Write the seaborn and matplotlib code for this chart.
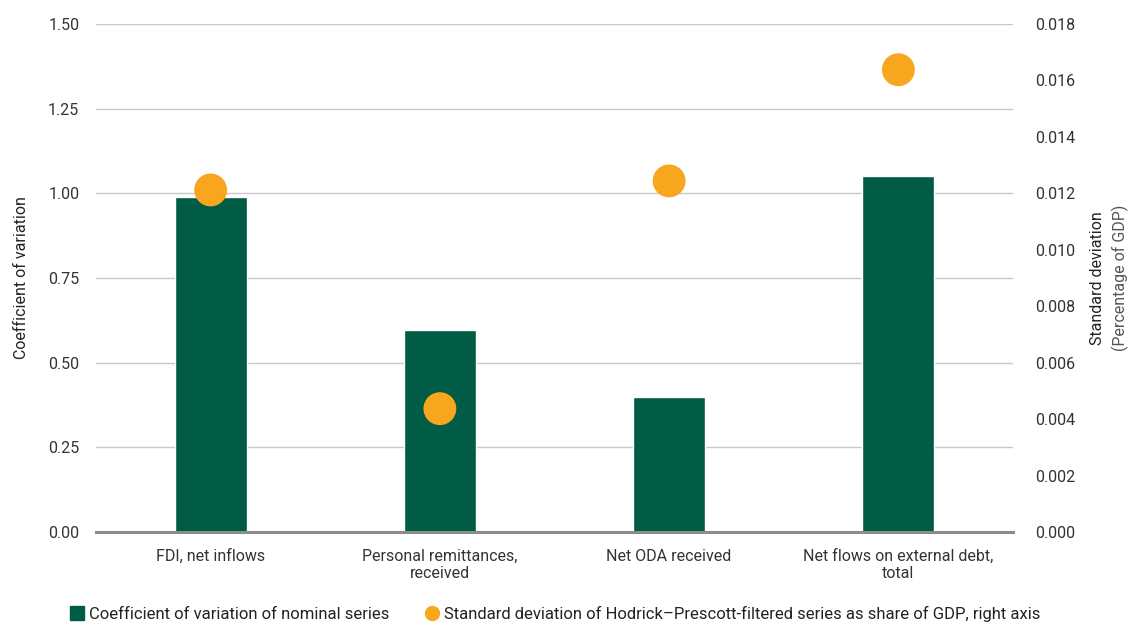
import numpy as np
import pandas as pd
import seaborn as sns
import matplotlib.pyplot as plt
from matplotlib.lines import Line2D
from matplotlib import font_manager

# data
categories = ['FDI, net inflows', 'Personal remittances,\nreceived',
              'Net ODA received', 'Net flows on external debt,\ntotal']
coef_var = [0.99, 0.595, 0.40, 1.05]
std_dev = [0.01212, 0.00437, 0.01244, 0.01638]

GREEN = '#005C45'
ORANGE = '#F9A61F'
TEXT = '#333333'

sns.set_theme(style='white')
names = {f.name for f in font_manager.fontManager.ttflist}
fam = ['Liberation Sans Narrow'] if 'Liberation Sans Narrow' in names else ['Roboto']
plt.rcParams['font.family'] = fam + ['DejaVu Sans']

df = pd.DataFrame({'category': categories, 'cv': coef_var, 'sd': std_dev})

fig = plt.figure(figsize=(11.34, 6.24), dpi=100)
ax = fig.add_axes([96 / 1134, 1 - 532 / 624, (1013 - 96) / 1134, (532 - 24) / 624])

sns.barplot(data=df, x='category', y='cv', color=GREEN, width=0.315,
            saturation=1, ax=ax, zorder=2)
ax.set_ylim(0, 1.5)
ax.set_xlim(-0.5, 3.5)
ax.set_yticks(np.arange(0, 1.51, 0.25))
ax.set_yticklabels([f'{v:.2f}' for v in np.arange(0, 1.51, 0.25)])
ax.yaxis.grid(True, color='#c8c8c8', linewidth=1, zorder=0)
ax.set_axisbelow(True)
for s in ['top', 'right', 'left']:
    ax.spines[s].set_visible(False)
ax.spines['bottom'].set_color('#8c8c8c')
ax.spines['bottom'].set_linewidth(2.2)
ax.tick_params(axis='both', length=0, labelsize=11.5, colors=TEXT)
ax.tick_params(axis='y', pad=12)
ax.tick_params(axis='x', pad=12)
ax.set_xlabel('')
ax.set_ylabel('Coefficient of variation', fontsize=11.5, color='#222222', labelpad=14)

ax2 = ax.twinx()
sns.scatterplot(data=df, x='category', y='sd', color=ORANGE, s=560,
                edgecolor='none', ax=ax2, zorder=3)
ax2.set_ylim(0, 0.018)
ax2.set_yticks(np.arange(0, 0.0181, 0.002))
ax2.set_yticklabels([f'{v:.3f}' for v in np.arange(0, 0.0181, 0.002)])
for s in ['top', 'right', 'left', 'bottom']:
    ax2.spines[s].set_visible(False)
ax2.tick_params(axis='y', length=0, labelsize=11.5, colors=TEXT, pad=16)
ax2.set_ylabel('')
ax2.grid(False)

fig.text(1097 / 1134, 1 - 278 / 624, 'Standard deviation', rotation=90,
         ha='center', va='center', fontsize=11.5, color='#222222')
fig.text(1120 / 1134, 1 - 278 / 624, '(Percentage of GDP)', rotation=90,
         ha='center', va='center', fontsize=11.5, color='#555555')

handles = [Line2D([], [], marker='s', linestyle='none', color=GREEN, markersize=10),
           Line2D([], [], marker='o', linestyle='none', color=ORANGE, markersize=10)]
labels = ['Coefficient of variation of nominal series',
          'Standard deviation of Hodrick\u2013Prescott-filtered series as share of GDP, right axis']
leg = fig.legend(handles, labels, loc='center left', bbox_to_anchor=(52 / 1134, 1 - 614 / 624),
                 ncol=2, frameon=False, fontsize=12, handletextpad=0.1, columnspacing=2.0,
                 handlelength=1.2)
for t in leg.get_texts():
    t.set_color('#222222')

fig.savefig('out.png', dpi=100)
